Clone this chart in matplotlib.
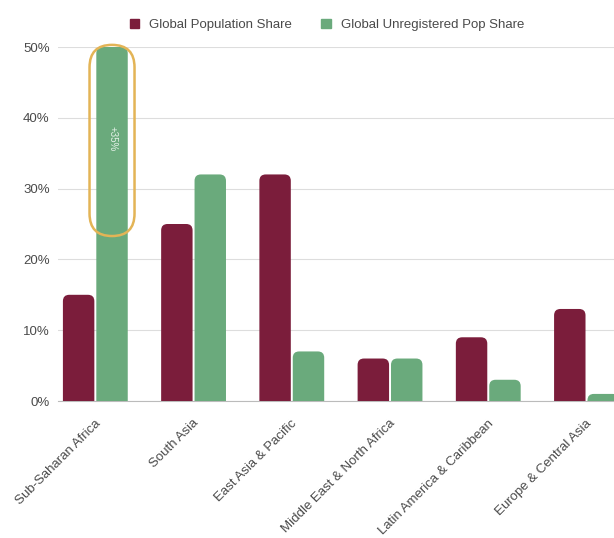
import numpy as np
import matplotlib.pyplot as plt
from matplotlib.path import Path
from matplotlib.patches import PathPatch, FancyBboxPatch, Patch
from matplotlib.transforms import ScaledTranslation

# Regional shares (%)
regions = ['Sub-Saharan Africa', 'South Asia', 'East Asia & Pacific',
           'Middle East & North Africa', 'Latin America & Caribbean',
           'Europe & Central Asia']
pop_share = [15, 25, 32, 6, 9, 13]
unreg_share = [50, 32, 7, 6, 3, 1]
y_ticks = [0, 10, 20, 30, 40, 50]

maroon = '#7b1d3b'
green = '#6aaa7c'
text_gray = '#4a4a4a'

plt.rcParams['font.family'] = ['Liberation Sans', 'DejaVu Sans']

fig = plt.figure(figsize=(6.14, 5.38), dpi=100)
ax = fig.add_axes([58 / 614, 137 / 538, 1 - 58 / 614, (401 - 47) / 538])

x = np.arange(len(regions))
w = 0.32
b1 = ax.bar(x - w / 2 - 0.01, pop_share, w, color=maroon)
b2 = ax.bar(x + w / 2 + 0.01, unreg_share, w, color=green)

ax.set_xlim(-0.38, 5.28)
ax.set_ylim(0, 50)


def round_top(rect, rx=0.065, ry=0.9):
    # rebuild a bar with rounded top corners
    x0, y0 = rect.get_x(), rect.get_y()
    bw, bh = rect.get_width(), rect.get_height()
    ry = min(ry, bh)
    verts = [(x0, y0), (x0, y0 + bh - ry), (x0, y0 + bh), (x0 + rx, y0 + bh),
             (x0 + bw - rx, y0 + bh), (x0 + bw, y0 + bh), (x0 + bw, y0 + bh - ry),
             (x0 + bw, y0), (x0, y0)]
    codes = [Path.MOVETO, Path.LINETO, Path.CURVE3, Path.CURVE3,
             Path.LINETO, Path.CURVE3, Path.CURVE3, Path.LINETO, Path.CLOSEPOLY]
    p = PathPatch(Path(verts, codes), facecolor=rect.get_facecolor(),
                  edgecolor='none', zorder=3, clip_on=True)
    ax.add_patch(p)
    rect.set_visible(False)


for r in list(b1) + list(b2):
    round_top(r)

# grid and axes styling
ax.set_yticks(y_ticks)
ax.set_yticklabels([f'{v}%' for v in y_ticks], color=text_gray, fontsize=9.5)
ax.yaxis.grid(True, color='#dddddd', linewidth=0.8, zorder=0)
ax.set_axisbelow(True)
for s in ['top', 'right', 'left']:
    ax.spines[s].set_visible(False)
ax.spines['bottom'].set_color('#bbbbbb')
ax.tick_params(axis='y', length=0, pad=6)
ax.tick_params(axis='x', length=0, pad=6)
ax.set_xticks(x)
ax.set_xticklabels(regions, rotation=45, ha='right', rotation_mode='anchor',
                   color=text_gray, fontsize=9.5)
shift = ScaledTranslation(-1 / 100, -8 / 100, fig.dpi_scale_trans)
for lbl in ax.get_xticklabels():
    lbl.set_transform(lbl.get_transform() + shift)

# highlight around the Sub-Saharan unregistered bar
bar = b2[0]
xc = bar.get_x() + bar.get_width() / 2
top = unreg_share[0] + 0.3
bottom = 23.3
yc = (top + bottom) / 2
bw_in = 0.45
bh_in = (top - bottom) * 0.0708
tr = fig.dpi_scale_trans + ScaledTranslation(xc, yc, ax.transData)
ring = FancyBboxPatch((-bw_in / 2, -bh_in / 2), bw_in, bh_in,
                      boxstyle=f'round,pad=0,rounding_size={bw_in / 2}',
                      facecolor='none', edgecolor='#e3b456', linewidth=1.8,
                      transform=tr, zorder=5, clip_on=False)
ax.add_patch(ring)
diff = unreg_share[0] - pop_share[0]
ax.text(xc, 37, f'+{diff}%', rotation=270, ha='center', va='center',
        color='#e4f1e7', fontsize=7, zorder=6)

handles = [Patch(color=maroon, label='Global Population Share'),
           Patch(color=green, label='Global Unregistered Pop Share')]
fig.legend(handles=handles, loc='center', bbox_to_anchor=(327 / 614, 1 - 25 / 538),
           ncol=2, frameon=False, fontsize=9.5, handlelength=0.7, handleheight=0.7,
           handletextpad=0.8, columnspacing=2.2, labelcolor=text_gray)

fig.savefig('out.png', dpi=100)
